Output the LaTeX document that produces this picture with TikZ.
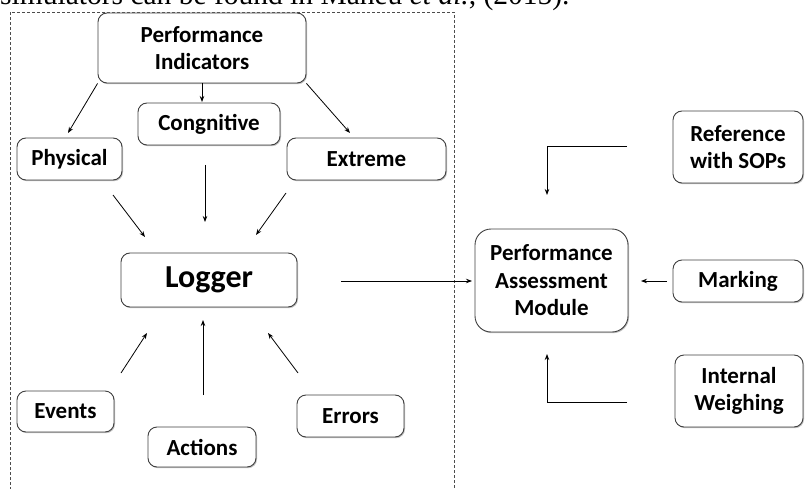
\documentclass[tikz,border=0pt]{standalone}
\usepackage{fontspec}
\setmainfont{Liberation Serif}
\newfontfamily\carlito{Carlito}
\usetikzlibrary{arrows.meta,shadows}
\begin{document}
\begin{tikzpicture}[x=1pt,y=-1pt,
  box/.style={draw=black!75, line width=0.9pt, rounded corners=9pt, fill=white,
    drop shadow={shadow xshift=1pt, shadow yshift=-1.2pt, opacity=0.25, fill=black},
    font=\carlito\bfseries\fontsize{23}{27.5}\selectfont, align=center, inner sep=0pt},
  arr/.style={line width=0.8pt, -{Stealth[length=6pt,width=4.5pt]}},
  frame/.style={densely dashed, line width=0.6pt, draw=black!70}]
\useasboundingbox (0,0) rectangle (805,489);
\clip (0,0) rectangle (805,489);
% caption (cut off at the top, as in the reference)
\node[anchor=base west, inner sep=0pt, font=\fontsize{29.5}{34}\selectfont] (cap) at (0,5)
  {simulators can be found in Maheu \textit{et al.}, (2015).};
% dashed frame
\draw[frame] (10,495) -- (10,12) -- (454,12) -- (454,495);
% nodes
\node[box, minimum width=208pt, minimum height=70pt] (pi) at (202,48) {Performance\\Indicators};
\node[box, minimum width=142pt, minimum height=42pt] (cog) at (209,124) {Congnitive};
\node[box, minimum width=105pt, minimum height=42pt] (phy) at (69.5,159) {Physical};
\node[box, minimum width=159pt, minimum height=42pt] (ext) at (366.5,159) {Extreme};
\node[box, minimum width=176pt, minimum height=54pt, font=\carlito\bfseries\fontsize{32}{38}\selectfont] (log) at (209,280) {Logger};
\node[box, minimum width=97pt, minimum height=41pt] (ev) at (65.5,411.5) {Events};
\node[box, minimum width=108pt, minimum height=40pt] (act) at (202,447) {Actions};
\node[box, minimum width=107pt, minimum height=42pt] (err) at (350.5,416) {Errors};
\node[box, minimum width=130pt, minimum height=72pt] (ref) at (738,147) {Reference\\with SOPs};
\node[box, minimum width=153pt, minimum height=103pt, rounded corners=16pt] (pam) at (551.5,280.5) {Performance\\Assessment\\Module};
\node[box, minimum width=130pt, minimum height=42pt] (mark) at (738,281) {Marking};
\node[box, minimum width=128pt, minimum height=72pt] (iw) at (739,391) {Internal\\Weighing};
% connector ends
\coordinate (a1) at (68,133);
\coordinate (a2s) at (202,83);
\coordinate (a2e) at (202,102);
\coordinate (a3) at (350,133);
\coordinate (b1s) at (113,195);
\coordinate (b1e) at (145,237);
\coordinate (b2s) at (205,165);
\coordinate (b2e) at (205,222);
\coordinate (b3s) at (286,193);
\coordinate (b3e) at (256,235);
\coordinate (c1s) at (341,281);
\coordinate (c1e) at (472,281);
\coordinate (d1s) at (121,373);
\coordinate (d1e) at (147,333);
\coordinate (d2s) at (203,395);
\coordinate (d2e) at (203,320);
\coordinate (d3s) at (298,373);
\coordinate (d3e) at (268,333);
\coordinate (r1) at (627,146);
\coordinate (r2) at (547,146);
\coordinate (r3) at (547,195);
\coordinate (m1) at (667,281);
\coordinate (m2) at (641,281);
\coordinate (w1) at (627,402);
\coordinate (w2) at (547,402);
\coordinate (w3) at (547,354);
% connectors
\draw[arr] (pi.south west) -- (a1);
\draw[arr] (a2s) -- (a2e);
\draw[arr] (pi.south east) -- (a3);
\draw[arr] (b1s) -- (b1e);
\draw[arr] (b2s) -- (b2e);
\draw[arr] (b3s) -- (b3e);
\draw[arr] (c1s) -- (c1e);
\draw[arr] (d1s) -- (d1e);
\draw[arr] (d2s) -- (d2e);
\draw[arr] (d3s) -- (d3e);
\draw[arr] (r1) -- (r2) -- (r3);
\draw[arr] (m1) -- (m2);
\draw[arr] (w1) -- (w2) -- (w3);
\end{tikzpicture}
\end{document}
